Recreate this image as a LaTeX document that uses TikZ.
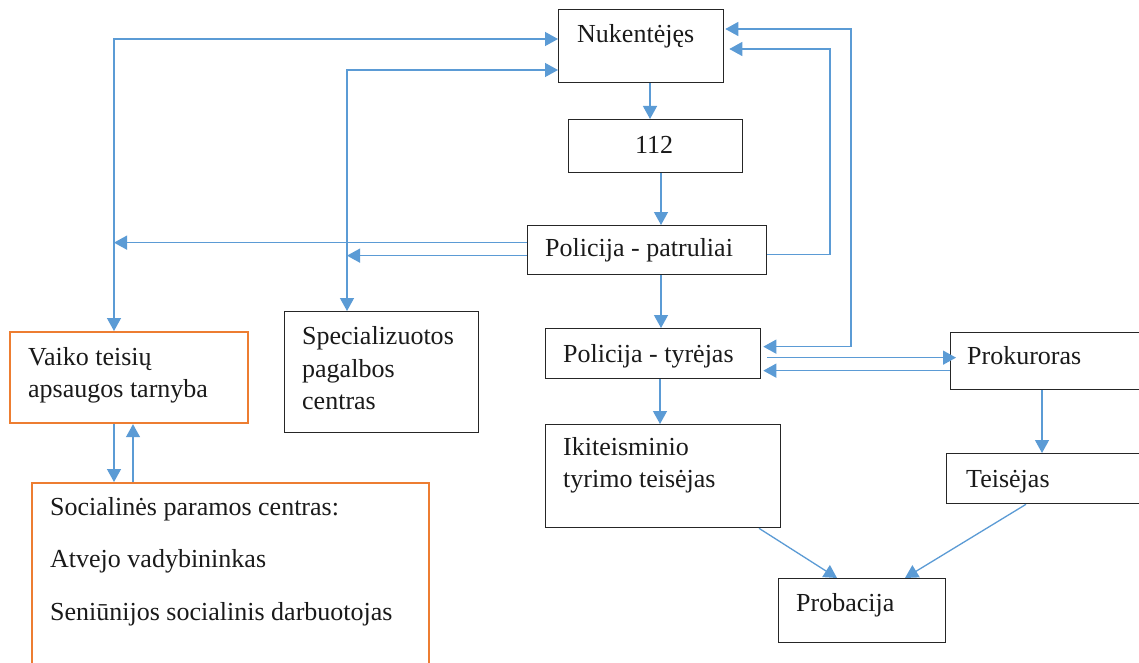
\documentclass[tikz,border=0pt]{standalone}
\usepackage{fontspec}
\setmainfont{Liberation Serif}
\usetikzlibrary{arrows.meta,calc}
\definecolor{lineblue}{HTML}{5B9BD5}
\definecolor{boxorange}{HTML}{ED7D31}
\definecolor{txtcol}{HTML}{1A1A1A}
\tikzset{
  box/.style={draw=black!85, line width=1.3pt, anchor=north west, inner sep=0pt, rectangle},
  obox/.style={draw=boxorange, line width=2.2pt, anchor=north west, inner sep=0pt, rectangle},
  txt/.style={anchor=base west, inner sep=0pt, text=txtcol, font=\fontsize{26}{32}\selectfont},
  arr/.style={draw=lineblue, line width=1.3pt, -{Triangle[length=13pt,width=14pt]}, color=lineblue},
  arrb/.style={draw=lineblue, line width=1.3pt, {Triangle[length=13pt,width=14pt]}-{Triangle[length=13pt,width=14pt]}, color=lineblue}
}
\begin{document}
\begin{tikzpicture}[x=1pt,y=-1pt]
\clip (0,0) rectangle (1139,663);
\fill[white] (0,0) rectangle (1139,663);

% boxes
\node[box, minimum width=165pt, minimum height=73pt] (nuk) at (558,9) {};
\node[box, minimum width=174pt, minimum height=53pt] (n112) at (568,119) {};
\node[box, minimum width=239pt, minimum height=49pt] (pat) at (527,225) {};
\node[box, minimum width=215pt, minimum height=50pt] (tyr) at (545,328) {};
\node[box, minimum width=220pt, minimum height=57pt] (prok) at (950,332) {};
\node[box, minimum width=235pt, minimum height=103pt] (iki) at (545,424) {};
\node[box, minimum width=230pt, minimum height=50pt] (teis) at (946,453) {};
\node[box, minimum width=167pt, minimum height=64pt] (prob) at (778,578) {};
\node[obox, minimum width=238pt, minimum height=91pt] (vaiko) at (9,331) {};
\node[box, minimum width=194pt, minimum height=121pt] (spec) at (284,311) {};
\node[obox, minimum width=397pt, minimum height=220pt] (soc) at (31,482) {};

% texts
\node[txt] (tnuk) at (577,43) {Nukentėjęs};
\node[txt] (t112) at (635,154) {112};
\node[txt] (tpat) at (545,256) {Policija - patruliai};
\node[txt] (ttyr) at (563,362) {Policija - tyrėjas};
\node[txt] (tprok) at (967,364) {Prokuroras};
\node[txt] (tiki1) at (563,455) {Ikiteisminio};
\node[txt] (tiki2) at (563,487) {tyrimo teisėjas};
\node[txt] (tteis) at (966,487) {Teisėjas};
\node[txt] (tprob) at (796,611) {Probacija};
\node[txt] (tv1) at (28,365) {Vaiko teisių};
\node[txt] (tv2) at (28,397) {apsaugos tarnyba};
\node[txt] (ts1) at (302,344) {Specializuotos};
\node[txt] (ts2) at (302,377) {pagalbos};
\node[txt] (ts3) at (302,409) {centras};
\node[txt] (tc1) at (50,515) {Socialinės paramos centras:};
\node[txt] (tc2) at (50,567) {Atvejo vadybininkas};
\node[txt] (tc3) at (50,620) {Seniūnijos socialinis darbuotojas};

% helper coordinates
\coordinate (r1) at (830,49);
\coordinate (r2) at (851,29);
\coordinate (l1) at (114,39);
\coordinate (l2) at (347,70);
\coordinate (l3) at (133,0);
\coordinate (pw1) at ([yshift=7.5pt]pat.west);
\coordinate (pw2) at ([yshift=-5.5pt]pat.west);

% vertical chain
\draw[arr] ([xshift=92pt]nuk.south west) -- ([xshift=92pt]nuk.south west |- n112.north);
\draw[arr] ([xshift=93pt]n112.south west) -- ([xshift=93pt]n112.south west |- pat.north);
\draw[arr] ([xshift=134pt]pat.south west) -- ([xshift=134pt]pat.south west |- tyr.north);
\draw[arr] ([xshift=115pt]tyr.south west) -- ([xshift=115pt]tyr.south west |- iki.north);

% right loops
\draw[arr] ([yshift=-4.5pt]pat.east) -| (r1) -- ([xshift=5pt]nuk.east |- r1);
\draw[arrb] ([xshift=1pt]nuk.east |- r2) -- (r2) |- ([xshift=2pt,yshift=7pt]tyr.east);

% tyrejas <-> prokuroras
\draw[arr] ([xshift=6pt,yshift=-4pt]tyr.east) -- ([xshift=6pt,yshift=-4pt]tyr.east -| prok.west);
\draw[arr] ([yshift=-9.5pt]prok.west) -- ([xshift=2pt,yshift=-9.5pt]prok.west -| tyr.east);

% prokuroras -> teisejas
\draw[arr] ([xshift=92pt]prok.south west) -- ([xshift=92pt]prok.south west |- teis.north);

% to probacija
\draw[arr] ([xshift=214pt]iki.south west) -- ([xshift=59pt]prob.north west);
\draw[arr] ([xshift=80pt]teis.south west) -- ([xshift=127pt]prob.north west);

% left loops
\draw[arrb] (nuk.west |- l1) -- (l1) -- (l1 |- vaiko.north);
\draw[arrb] (nuk.west |- l2) -- (l2) -- (l2 |- spec.north);
\draw[arr] (pw1) -- (pw1 -| l1);
\draw[arr] (pw2) -- (pw2 -| l2);

% vaiko <-> soc
\draw[arr] (l1 |- vaiko.south) -- (l1 |- soc.north);
\draw[arr] (l3 |- soc.north) -- (l3 |- vaiko.south);
\end{tikzpicture}
\end{document}
